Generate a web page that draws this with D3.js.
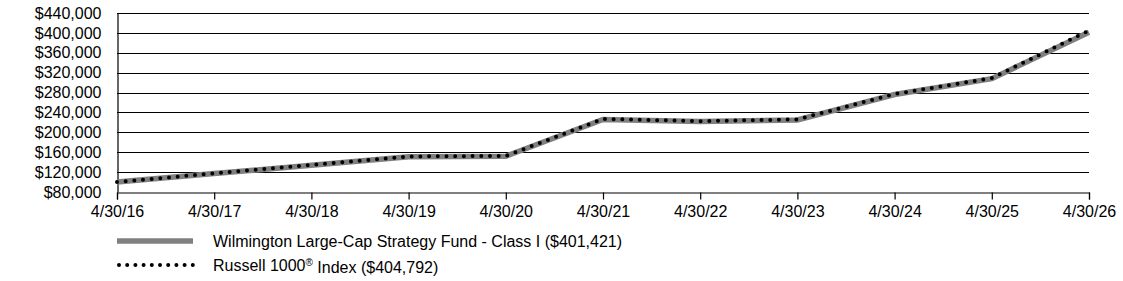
<!DOCTYPE html>
<html lang="en">
<head>
  <meta charset="UTF-8">
  <title>growth of 10k</title>
  <style>
    * { padding: 0; margin: 0; }
    html, body { width: 1123px; height: 281px; overflow: hidden; background: #fff; }
    text { font-family: "Liberation Sans", Arial, sans-serif; fill: #000; }
  </style>
</head>
<body>
  <script src="https://cdn.jsdelivr.net/npm/d3@7/dist/d3.min.js"></script>
  <script>
    // data
    const dates = ['4/30/16', '4/30/17', '4/30/18', '4/30/19', '4/30/20', '4/30/21', '4/30/22', '4/30/23', '4/30/24', '4/30/25', '4/30/26']
    const fundValues = [100000, 117000, 134000, 151000, 152000, 226000, 222000, 225000, 276000, 308000, 401421]
    const indexValues = [100000, 117500, 134500, 151500, 152500, 227000, 222500, 226000, 277000, 309000, 404792]
    const yTicks = [80000, 120000, 160000, 200000, 240000, 280000, 320000, 360000, 400000, 440000]
    const legendLabels = ['Wilmington Large-Cap Strategy Fund - Class I ($401,421)', 'Russell 1000® Index ($404,792)']

    const W = 1123, H = 281
    const mLeft = 117, mRight = 1089, mTop = 13, mBottom = 192

    const svg = d3.select('body').append('svg').attr('width', W).attr('height', H)

    const x = d3.scalePoint().domain(dates).range([mLeft, mRight])
    const y = d3.scaleLinear().domain([80000, 440000]).range([mBottom, mTop])

    // horizontal grid
    svg.append('g').selectAll('line').data(yTicks.slice(1)).enter().append('line')
      .attr('x1', mLeft).attr('x2', mRight)
      .attr('y1', d => Math.round(y(d)) + 0.5).attr('y2', d => Math.round(y(d)) + 0.5)
      .attr('stroke', '#000').attr('stroke-width', 1.2)

    // y axis
    const yAxis = svg.append('g').attr('transform', `translate(${mLeft + 0.5},0)`)
      .call(d3.axisLeft(y).tickValues(yTicks).tickSize(0).tickPadding(16)
        .tickFormat(d => '$' + d3.format(',')(d)))
    yAxis.select('.domain').attr('stroke', '#000').attr('stroke-width', 1.2)
    yAxis.selectAll('text').style('font-size', '16px')

    // x axis
    const xAxis = svg.append('g').attr('transform', `translate(0,${Math.round(mBottom) + 0.5})`)
      .call(d3.axisBottom(x).tickSize(7).tickPadding(6))
    xAxis.select('.domain').attr('stroke', '#000').attr('stroke-width', 1.2)
    xAxis.selectAll('line').attr('stroke', '#000').attr('stroke-width', 1.2)
    xAxis.selectAll('text').style('font-size', '16px')

    const line = d3.line().x((d, i) => x(dates[i])).y(d => y(d))

    svg.append('path').datum(fundValues).attr('d', line)
      .attr('fill', 'none').attr('stroke', '#808080').attr('stroke-width', 5.5)
    svg.append('path').datum(indexValues).attr('d', line)
      .attr('fill', 'none').attr('stroke', '#000').attr('stroke-width', 4)
      .attr('stroke-linecap', 'round').attr('stroke-dasharray', '0,8.7')

    // legend
    const legend = svg.append('g')
    const ly = [241, 265]
    legend.append('line').attr('x1', 117).attr('x2', 193).attr('y1', ly[0]).attr('y2', ly[0])
      .attr('stroke', '#808080').attr('stroke-width', 5.5)
    legend.append('line').attr('x1', 119).attr('x2', 193).attr('y1', ly[1]).attr('y2', ly[1])
      .attr('stroke', '#000').attr('stroke-width', 4)
      .attr('stroke-linecap', 'round').attr('stroke-dasharray', '0,8.2')
    legend.selectAll('text').data(legendLabels).enter().append('text')
      .attr('x', 213).attr('y', (d, i) => ly[i]).attr('dy', '0.35em')
      .style('font-size', '16px')
      .each(function (d) {
        const t = d3.select(this)
        if (d.includes('®')) {
          const parts = d.split('®')
          t.append('tspan').text(parts[0])
          t.append('tspan').text('®').attr('dy', '-0.45em').style('font-size', '10px')
          t.append('tspan').text(parts[1]).attr('dy', '0.45em')
        } else {
          t.text(d)
        }
      })
  </script>
</body>
</html>
